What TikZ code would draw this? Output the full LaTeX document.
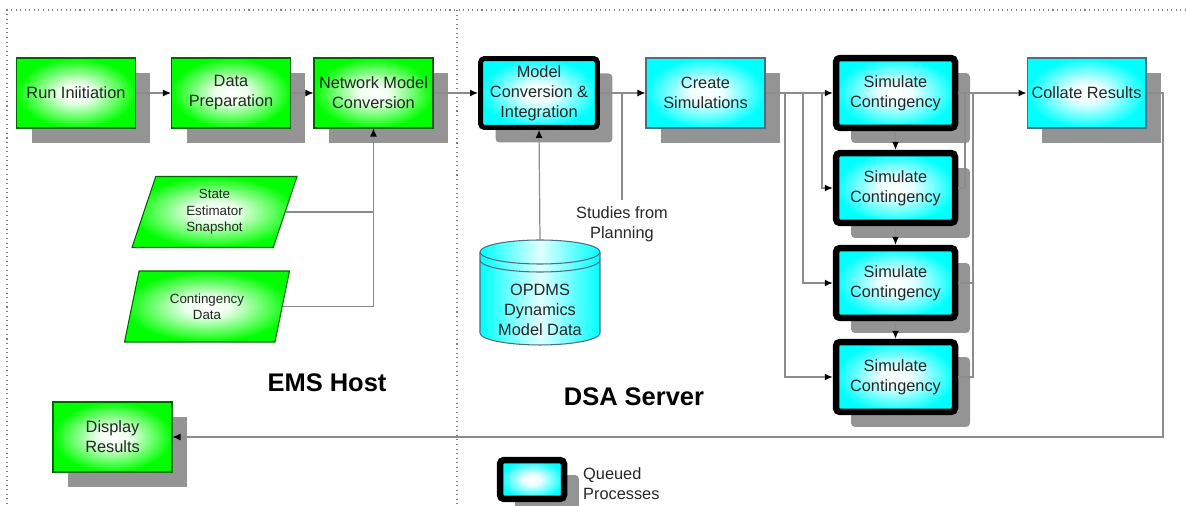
\documentclass[tikz,border=0pt]{standalone}
\usepackage{fontspec}
\setmainfont{Liberation Sans}
\usetikzlibrary{calc}
\usetikzlibrary{shapes.geometric}
\usetikzlibrary{shadows}
\usetikzlibrary{arrows.meta}

\pgfdeclareradialshading{greenglow}{\pgfpoint{0bp}{0bp}}{color(0bp)=(white); color(7bp)=(white!92!green); color(25bp)=(green); color(50bp)=(green)}
\pgfdeclareradialshading{cyanglow}{\pgfpoint{0bp}{0bp}}{color(0bp)=(white); color(7bp)=(white!92!cyan); color(25bp)=(cyan); color(50bp)=(cyan)}

\begin{document}
\begin{tikzpicture}[x=0.02cm, y=-0.02cm,
    every node/.style={font=\fontsize{9.3}{11.4}\selectfont, text=black!85, align=center},
    box/.style={rectangle, minimum width=2.38cm, minimum height=1.4cm, inner sep=1pt,
        drop shadow={shadow xshift=0.3cm, shadow yshift=-0.3cm, fill=black!42, opacity=1}},
    greenbox/.style={box, draw=green!40!black, line width=0.6pt, shading=greenglow},
    cyanbox/.style={box, draw=cyan!45!black, line width=0.6pt, shading=cyanglow},
    queued/.style={box, draw=black, line width=0.13cm, rounded corners=0.08cm, shading=cyanglow},
    datain/.style={trapezium, trapezium left angle=64, trapezium right angle=116, trapezium stretches body,
        draw=green!40!black, line width=0.6pt, shading=greenglow,
        minimum width=3.3cm, minimum height=1.42cm, inner sep=1pt, font=\fontsize{7.6}{9.4}\selectfont},
    drum/.style={draw=cyan!45!black, line width=0.6pt},
    link/.style={draw=black!45, line width=0.7pt},
    title/.style={font=\fontsize{14.5}{16}\selectfont\bfseries, text=black},
    >={Latex[black, length=0.16cm, width=0.14cm]}
]
    \useasboundingbox (0,0) rectangle (1186,506);
    \draw[black!50, dotted, line width=0.6pt] (1186,10) -- (7,10) -- (7,506);
    \draw[black!50, dotted, line width=0.6pt] (457,10) -- (457,506);

    \node[greenbox] (run) at (76,93) {Run Iniitiation};
    \node[greenbox] (prep) at (231,93) {Data\\Preparation};
    \node[greenbox] (nmc) at (373.5,93) {Network Model\\Conversion};
    \node[queued, minimum width=2.34cm, minimum height=1.38cm, line width=0.1cm] (mci) at (539,93) {Model\\Conversion \&\\Integration};
    \node[cyanbox] (cs) at (705.5,93) {Create\\Simulations};
    \node[cyanbox] (col) at (1086.5,93) {Collate Results};
    \node[greenbox] (disp) at (112.5,437) {Display\\Results};

    \node[datain] (ses) at (214.5,212) {State\\Estimator\\Snapshot};
    \node[datain] (cdata) at (207,306.5) {Contingency\\Data};

    \coordinate (cyl) at (540,240);
    \draw[drum, left color=cyan, right color=cyan, middle color=cyan!12]
        ([shift={(-1.2cm,-0.24cm)}]cyl) -- ++(0,-1.62cm)
        arc[start angle=180, end angle=360, x radius=1.2cm, y radius=0.24cm] -- ++(0,1.62cm)
        arc[start angle=0, end angle=180, x radius=1.2cm, y radius=0.24cm] -- cycle;
    \draw[drum] ([shift={(-1.2cm,-0.24cm)}]cyl) arc[start angle=180, end angle=360, x radius=1.2cm, y radius=0.24cm];
    \draw[drum] ([shift={(-1.2cm,-0.4cm)}]cyl) arc[start angle=180, end angle=360, x radius=1.2cm, y radius=0.24cm];
    \node (opdms) at (540,310) {OPDMS\\Dynamics\\Model Data};
    \node (stud) at (622,224) {Studies from\\Planning};

    \foreach \s/\y in {1/93,2/188,3/283,4/377}
    {
        \node[queued] (sim\s) at (895.5,\y) {Simulate\\Contingency};
    }

    \draw[link,->] (run) -- (prep);
    \draw[link,->] (prep) -- (nmc);
    \draw[link,->] (nmc) -- (mci);
    \draw[link,->] (mci) -- (cs);
    \draw[link,->] (cs) -- (sim1);
    \draw[link] (ses.east) -- (ses.east -| nmc.south);
    \draw[link,->] (cdata.east) -| (nmc.south);
    \draw[link,->] (cyl) -- (mci.south);
    \draw[link] (stud.north) -- (stud.north |- mci.east);

    \foreach \x/\s in {822/2,803/3,785/4}
    {
        \coordinate (br\s) at (\x,93);
        \draw[link,->] (br\s) |- (sim\s.west);
    }
    \foreach \a/\b in {1/2,2/3,3/4}
        \draw[link,->] (sim\a) -- (sim\b);
    \coordinate (jn2) at (965,93);
    \coordinate (jn3) at (973,93);
    \draw[link] (sim2.east) -| (jn2);
    \draw[link] (sim3.east) -| (jn3);
    \draw[link] (sim4.east) -| (jn3);
    \draw[link,->] (sim1) -- (col);
    \coordinate (ret) at (1163,437);
    \draw[link,->] (col.east) -| (ret) -- (disp.east);

    \node[title] (ems) at (327,383) {EMS Host};
    \node[title] (dsa) at (634,397) {DSA Server};
    \node[queued, minimum width=1.28cm, minimum height=0.78cm] (leg) at (532,479.5) {};
    \node[anchor=west, align=left] (legtxt) at (577,484) {Queued\\Processes};
\end{tikzpicture}
\end{document}
